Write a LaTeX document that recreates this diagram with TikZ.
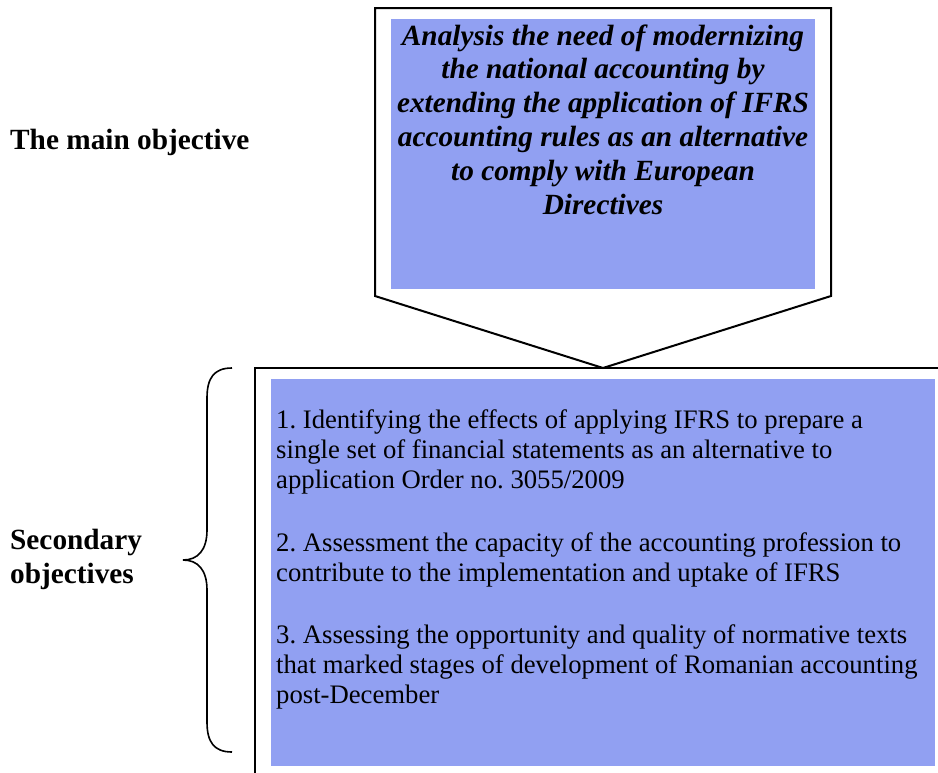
\documentclass[tikz,border=0pt]{standalone}
\usepackage{fontspec}
\setmainfont{Liberation Serif}
\frenchspacing
\definecolor{objfill}{RGB}{145,160,242}
\tikzset{
  outline/.style={draw=black, line width=2pt, line join=miter},
  panel/.style={fill=objfill, draw=none},
  label/.style={font=\bfseries\fontsize{29.3}{34}\selectfont, align=left, inner sep=0pt},
  headtext/.style={font=\bfseries\itshape\fontsize{29.3}{33.8}\selectfont, align=center, inner sep=0pt},
  bodytext/.style={font=\fontsize{26.7}{30}\selectfont, align=left, inner sep=0pt},
}
\begin{document}
\begin{tikzpicture}[x=1pt, y=-1pt]
\useasboundingbox (0,0) rectangle (938,772);

% main objective: pentagon arrow pointing down
\coordinate (tl) at (375,8);
\coordinate (tr) at (831,8);
\coordinate (br) at (831,296);
\coordinate (tip) at (603,368);
\coordinate (bl) at (375,296);
\draw[outline] (tl) -- (tr) -- (br) -- (tip) -- (bl) -- cycle;
\node[panel, minimum width=424pt, minimum height=270pt, anchor=north west] (mainpanel) at (391,19) {};
% base anchor of a multi-line node sits on its last line
\node[headtext, anchor=base] (maintext) at (603,214)
  {Analysis the need of modernizing\\the national accounting by\\extending the application of IFRS\\accounting rules as an alternative\\to comply with European\\Directives};

% secondary objectives box (runs off the right and bottom edges)
\coordinate (sb) at (255,780);
\coordinate (st) at (255,368);
\coordinate (se) at (945,368);
\draw[outline] (sb) -- (st) -- (se);
\node[panel, minimum width=664pt, minimum height=387pt, anchor=north west] (secpanel) at (271,379) {};
\node[bodytext, anchor=base west] (obj1) at (276,488)
  {1. Identifying the effects of applying IFRS to prepare a\\single set of financial statements as an alternative to\\application Order no. 3055/2009};
\node[bodytext, anchor=base west] (obj2) at (276,581)
  {2. Assessment the capacity of the accounting profession to\\contribute to the implementation and uptake of IFRS};
\node[bodytext, anchor=base west] (obj3) at (276,703)
  {3. Assessing the opportunity and quality of normative texts\\that marked stages of development of Romanian accounting\\post-December};

% left-hand labels
\node[label, anchor=base west] (mainlabel) at (10,149) {The main objective};
\node[label, anchor=base west] (seclabel) at (10,583) {Secondary\\objectives};

% curly brace grouping the secondary objectives
\coordinate (bt) at (232,368);
\coordinate (bm) at (183,560);
\coordinate (bb) at (232,752);
\draw[line width=1.6pt] (bt) .. controls (214,368) and (207,378) .. (207,398)
  -- (207,530) .. controls (207,550) and (198,560) .. (bm)
  .. controls (198,560) and (207,570) .. (207,590)
  -- (207,722) .. controls (207,742) and (214,752) .. (bb);
\end{tikzpicture}
\end{document}
